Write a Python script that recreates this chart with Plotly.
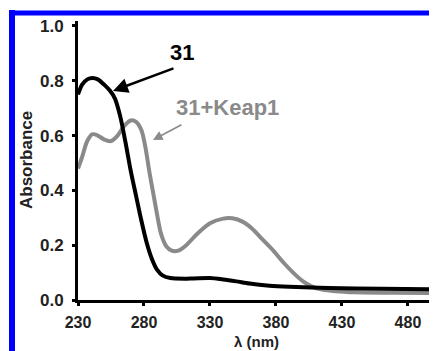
import plotly.graph_objects as go

# Data
wl_31 = [230, 233, 237, 241, 245, 250, 254, 258, 262, 266, 270, 274, 278, 282, 286, 290, 294, 300,
         315, 330, 340, 350, 360, 375, 390, 420, 460, 499]
abs_31 = [0.75, 0.785, 0.805, 0.81, 0.805, 0.785, 0.765, 0.735, 0.67, 0.575, 0.47, 0.38, 0.29, 0.21,
          0.15, 0.11, 0.09, 0.08, 0.078, 0.08, 0.075, 0.068, 0.06, 0.052, 0.048, 0.044, 0.041, 0.039]

wl_keap = [230, 233, 237, 241, 245, 250, 255, 260, 265, 270, 274, 278, 281, 284, 287, 290, 293, 297,
           301, 306, 312, 320, 330, 340, 347, 355, 362, 370, 378, 386, 393, 400, 407, 415, 425, 440,
           470, 499]
abs_keap = [0.48, 0.52, 0.58, 0.605, 0.6, 0.585, 0.58, 0.6, 0.635, 0.655, 0.65, 0.62, 0.56, 0.47,
            0.39, 0.31, 0.24, 0.195, 0.18, 0.18, 0.2, 0.24, 0.28, 0.297, 0.298, 0.285, 0.26, 0.22,
            0.18, 0.135, 0.1, 0.07, 0.05, 0.038, 0.032, 0.028, 0.026, 0.025]

x_ticks = [230, 280, 330, 380, 430, 480]
y_ticks = [0.0, 0.2, 0.4, 0.6, 0.8, 1.0]
y_tick_labels = ["0.0", "0.2", "0.4", "0.6", "0.8", "1.0"]

FONT = "Liberation Sans, Arial, Helvetica, sans-serif"
GREY = "#8a8a8a"
DARK = "#222222"

fig = go.Figure()
fig.add_trace(go.Scatter(x=wl_keap, y=abs_keap, mode="lines",
                         line=dict(color=GREY, width=4, shape="spline", smoothing=0.8),
                         name="31+Keap1", hoverinfo="skip"))
fig.add_trace(go.Scatter(x=wl_31, y=abs_31, mode="lines",
                         line=dict(color="black", width=4, shape="spline", smoothing=0.8),
                         name="31", hoverinfo="skip"))

# page body adds an 8px offset, so the figure is 8px smaller in each direction
fig.update_layout(
    width=429, height=343,
    margin=dict(l=70, r=4, t=13, b=51, autoexpand=False),
    paper_bgcolor="white", plot_bgcolor="white",
    showlegend=False,
    font=dict(family=FONT, color=DARK),
    xaxis=dict(range=[230, 499], tickvals=x_ticks, ticktext=[str(v) for v in x_ticks],
               automargin=False, ticklabelstandoff=3,
               showgrid=False, zeroline=False, showline=True, linecolor="black", linewidth=3,
               ticks="outside", ticklen=3, tickwidth=3, tickcolor="black",
               tickfont=dict(size=16, family=FONT, weight="bold", color=DARK)),
    yaxis=dict(range=[0, 1.018], tickvals=y_ticks, ticktext=y_tick_labels,
               automargin=False, ticklabelstandoff=5,
               showgrid=False, zeroline=False, showline=True, linecolor="black", linewidth=3,
               ticks="outside", ticklen=3, tickwidth=3, tickcolor="black",
               tickfont=dict(size=17, family=FONT, weight="bold", color=DARK)),
)

px = lambda p: (p - 78) / 355
py = lambda p: (300 - p) / 279

# Axis titles
fig.add_annotation(xref="paper", yref="paper", x=px(256), y=py(341), text="λ (nm)",
                   showarrow=False, xanchor="center", yanchor="middle",
                   font=dict(size=15, family=FONT, weight="bold", color=DARK))
fig.add_annotation(xref="paper", yref="paper", x=px(26), y=py(160), text="Absorbance",
                   showarrow=False, xanchor="center", yanchor="middle", textangle=-90,
                   font=dict(size=17, family=FONT, weight="bold", color=DARK))

# Labels and arrows
fig.add_annotation(x=256.5, y=0.763, ax=62, ay=-23, axref="pixel", ayref="pixel",
                   text="", showarrow=True, arrowhead=2, arrowsize=1.2, arrowwidth=2.5,
                   arrowcolor="black")
fig.add_annotation(x=286.8, y=0.584, ax=30, ay=-16, axref="pixel", ayref="pixel",
                   text="", showarrow=True, arrowhead=2, arrowsize=1.2, arrowwidth=1.6,
                   arrowcolor=GREY)
fig.add_annotation(xref="paper", yref="paper", x=px(182), y=py(52),
                   text="31", showarrow=False, xanchor="center", yanchor="middle",
                   font=dict(size=22, family=FONT, weight="bold", color="black"))
fig.add_annotation(xref="paper", yref="paper", x=px(227), y=py(107),
                   text="31+Keap1", showarrow=False, xanchor="center", yanchor="middle",
                   font=dict(size=22, family=FONT, weight="bold", color=GREY))

# Blue frame around the figure
BLUE = "#0000ff"
fig.add_shape(type="line", xref="paper", yref="paper", x0=px(12), x1=px(12), y0=py(10), y1=py(370),
              line=dict(color=BLUE, width=6))
fig.add_shape(type="line", xref="paper", yref="paper", x0=px(9), x1=px(437), y0=py(13), y1=py(13),
              line=dict(color=BLUE, width=5))
fig.add_shape(type="line", xref="paper", yref="paper", x0=px(435.5), x1=px(435.5), y0=py(13), y1=py(370),
              line=dict(color=BLUE, width=2))

fig.write_html("out.html")
